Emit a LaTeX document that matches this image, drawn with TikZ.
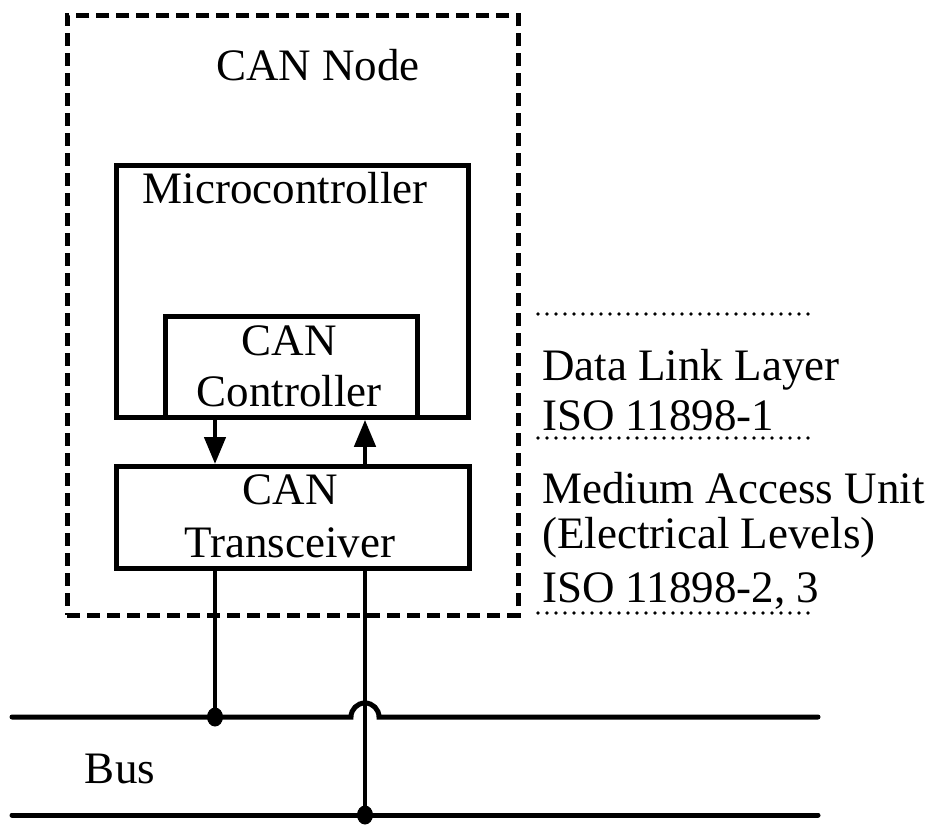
\documentclass[tikz,border=0pt]{standalone}
\usepackage{fontspec}
\setmainfont{Liberation Serif}
\usetikzlibrary{arrows.meta,shapes.geometric}
\begin{document}
\begin{tikzpicture}[x=1pt,y=1pt,
  box/.style={draw,line width=4.8pt,rectangle,inner sep=0pt,anchor=north west},
  nodebox/.style={draw,line width=4.5pt,dash pattern=on 13pt off 7pt,rectangle,inner sep=0pt,anchor=north west},
  txt/.style={inner sep=0pt,anchor=base,font=\fontsize{45}{51}\selectfont},
  ltxt/.style={inner sep=0pt,anchor=base west,font=\fontsize{45}{51}\selectfont},
  arr/.style={line width=4.5pt,-{Triangle[length=27pt,width=21pt]}},
  lead/.style={line width=4pt},
  bus/.style={line width=5pt,line cap=round},
  sep/.style={line width=3.8pt,line cap=round,dash pattern=on 0pt off 9pt},
  dot/.style={ellipse,fill,inner sep=0pt,minimum width=16pt,minimum height=19pt}]
\useasboundingbox (0,0) rectangle (930,-825);
% boxes
\node[nodebox,minimum width=451pt,minimum height=600pt] (cannode) at (65,-13) {};
\node[box,minimum width=352pt,minimum height=252pt] (mc) at (114,-163) {};
\node[box,minimum width=252pt,minimum height=101pt] (ctl) at (163,-314) {};
\node[box,minimum width=353pt,minimum height=102pt] (tr) at (114,-464) {};
% labels
\node[txt] (lnode) at (318,-80) {CAN Node};
\node[txt] (lmc) at (285,-203) {Microcontroller};
\node[txt] (lctl1) at (289,-355) {CAN};
\node[txt] (lctl2) at (289,-406) {Controller};
\node[txt] (ltr1) at (290,-504) {CAN};
\node[txt] (ltr2) at (290,-557) {Transceiver};
\node[ltxt] (r1) at (542,-380) {Data Link Layer};
\node[ltxt] (r2) at (542,-430) {ISO 11898-1};
\node[ltxt] (r3) at (542,-503) {Medium Access Unit};
\node[ltxt] (r4) at (542,-548) {(Electrical Levels)};
\node[ltxt] (r5) at (542,-602) {ISO 11898-2, 3};
\node[txt] (lbus) at (120,-783) {Bus};
% layer separators
\coordinate (s1a) at (538,-314); \coordinate (s1b) at (810,-314);
\coordinate (s2a) at (538,-438); \coordinate (s2b) at (810,-438);
\coordinate (s3a) at (538,-613); \coordinate (s3b) at (810,-613);
\draw[sep] (s1a) -- (s1b);
\draw[sep] (s2a) -- (s2b);
\draw[sep] (s3a) -- (s3b);
% arrows between controller and transceiver
\coordinate (xa) at (215,0);
\coordinate (xb) at (365,0);
\draw[arr] (mc.south -| xa) -- (tr.north -| xa);
\draw[arr] (tr.north -| xb) -- (ctl.south -| xb);
% bus
\coordinate (b1l) at (12,-717); \coordinate (b1r) at (818,-717);
\coordinate (b2l) at (12,-815); \coordinate (b2r) at (818,-815);
\coordinate (jl) at (351,-717);
\draw[bus] (b1l) -- (jl) arc[start angle=180,end angle=0,radius=14pt] -- (b1r);
\draw[bus] (b2l) -- (b2r);
\node[dot] (d1) at (215,-717) {};
\node[dot] (d2) at (365,-815) {};
\draw[lead] (tr.south -| xa) -- (d1.center);
\draw[lead] (tr.south -| xb) -- (d2.center);
\end{tikzpicture}
\end{document}
